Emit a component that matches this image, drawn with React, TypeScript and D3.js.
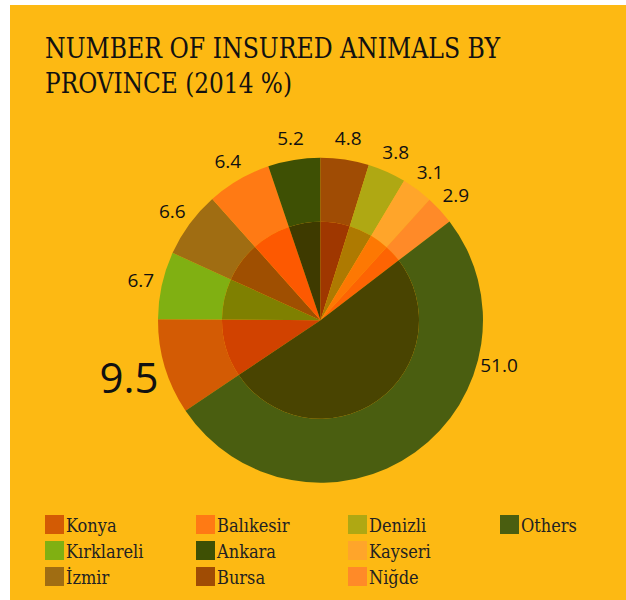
import React from "react";
import * as d3 from "d3";

const provinces = ["Konya", "Kırklareli", "İzmir", "Balıkesir", "Ankara", "Bursa", "Denizli", "Kayseri", "Niğde", "Others"];
const shares = [9.5, 6.7, 6.6, 6.4, 5.2, 4.8, 3.8, 3.1, 2.9, 51.0];
const labels = ["9.5", "6.7", "6.6", "6.4", "5.2", "4.8", "3.8", "3.1", "2.9", "51.0"];
const colors = ["#D35B04", "#80B012", "#A06D12", "#FF7A14", "#3E5004", "#A04C04", "#AFA813", "#FFA52A", "#FF8A28", "#4A5E10"];
const titleLines = ["NUMBER OF INSURED ANIMALS BY", "PROVINCE (2014 %)"];

const W = 626, H = 600;
const BG = "#FDB913";
const cx = 320.5, cy = 320.2;
const rOuter = 162.5, rInner = 98.5;
const topIndex = 5; // slice that starts at 12 o'clock (Bursa)
const highlight = 0; // Konya label enlarged
const othersLabelAngleDeg = 104;

const serif = "'DejaVu Serif', serif";
const sans = "'Open Sans', 'DejaVu Sans', sans-serif";

function multiply(c: string, bg: string) {
  const a = d3.rgb(c), b = d3.rgb(bg);
  return d3.rgb((a.r * b.r) / 255, (a.g * b.g) / 255, (a.b * b.b) / 255).formatHex();
}

export default function App() {
  const total = d3.sum(shares);
  const before = d3.sum(shares.slice(0, topIndex));
  const start = (-2 * Math.PI * before) / total;
  const pie = d3.pie<number>().sort(null).value((d) => d).startAngle(start).endAngle(start + 2 * Math.PI);
  const arcs = pie(shares);
  const outerArc = d3.arc<d3.PieArcDatum<number>>().innerRadius(rInner).outerRadius(rOuter);
  const innerArc = d3.arc<d3.PieArcDatum<number>>().innerRadius(0).outerRadius(rInner);

  const legendCols = [45, 196, 348, 500];
  const legendRows = [515, 541, 567];

  return (
    <svg width={W} height={H} style={{ position: "absolute", left: 0, top: 0, background: "#fff" }}>
      <rect x={10} y={5} width={W - 10} height={H - 5} fill={BG} />
      <g fontFamily={serif} style={{ fontStretch: "condensed" }} fill="#111">
        <text x={45} y={57.5} fontSize={27} textLength={455} lengthAdjust="spacingAndGlyphs">{titleLines[0]}</text>
        <text x={45} y={92.5} fontSize={27} textLength={247} lengthAdjust="spacingAndGlyphs">{titleLines[1]}</text>
      </g>
      <g transform={`translate(${cx},${cy})`}>
        {arcs.map((a, i) => (
          <path key={"o" + i} d={outerArc(a) || ""} fill={colors[i]} />
        ))}
        {arcs.map((a, i) => (
          <path key={"i" + i} d={innerArc(a) || ""} fill={multiply(colors[i], BG)} />
        ))}
        {arcs.map((a, i) => {
          let ang = (a.startAngle + a.endAngle) / 2;
          if (i === shares.length - 1) ang = (othersLabelAngleDeg * Math.PI) / 180;
          const big = i === highlight;
          const r = big ? 200 : 184;
          const x = r * Math.sin(ang);
          const y = -r * Math.cos(ang);
          const fs = big ? 42 : 19;
          return (
            <text key={"l" + i} x={x} y={y + fs * 0.36} textAnchor="middle" fontFamily={sans} fontSize={fs} fill="#111">
              {labels[i]}
            </text>
          );
        })}
      </g>
      <g fontFamily={serif} style={{ fontStretch: "condensed" }}>
        {provinces.map((p, i) => {
          const col = Math.floor(i / 3);
          const row = i % 3;
          const x = legendCols[col];
          const y = legendRows[row];
          return (
            <g key={p}>
              <rect x={x} y={y} width={19} height={19} fill={colors[i]} />
              <text x={x + 21} y={y + 17} fontSize={18} fill="#222">{p}</text>
            </g>
          );
        })}
      </g>
    </svg>
  );
}
